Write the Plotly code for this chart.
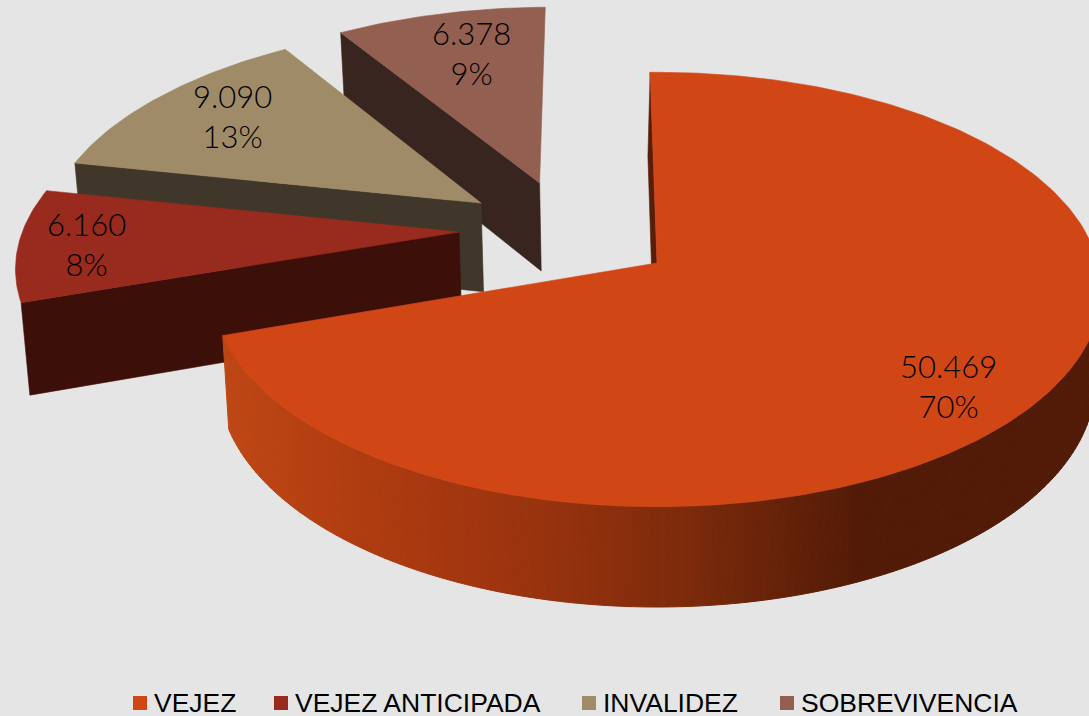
import math
import plotly.graph_objects as go

# Data
CATEGORIES = ["VEJEZ", "VEJEZ ANTICIPADA", "INVALIDEZ", "SOBREVIVENCIA"]
VALUES = [50469, 6160, 9090, 6378]
PERCENT_LABELS = ["70%", "8%", "13%", "9%"]

# Style
TOP_COLORS = ["#D04715", "#982A1E", "#A08B68", "#935F50"]
EDGE_COLORS = ["#5A1E08", "#3D0F09", "#40372A", "#38251F"]
BG = "#E5E5E5"

# Perspective model of the tilted pie
CX, CY = 657.0, 263.0
SCALE_U, SCALE_V, PERSP = 441.0, 214.0, 0.122
DEPTH, BOTTOM_K = 91.0, 1.014
START_ANGLE = -1.0
# explosion offset and radius of each slice in the pie plane (radius units)
OFFSETS = [(0.0, 0.0), (-0.457, 0.147), (-0.413, 0.29), (-0.279, 0.392)]
RADII = [1.0, 1.008, 1.008, 1.008]
WALL_SHIFT = [-0.006, 0.0, 0.0, 0.0]
LABEL_XY = [(948, 386), (86, 244), (232, 116), (471, 53)]
LEGEND_MARKER_X = [140, 281, 589, 787]
LEGEND_TEXT_X = [152, 293, 601, 799]
LEGEND_Y = 703
RIM_START = 92.0


def top(u, v):
    s = 1 + PERSP * v
    return CX + SCALE_U * u / s, CY - SCALE_V * v / s


def bottom(u, v):
    s = 1 + PERSP * v
    return (CX + SCALE_U * u / (s * BOTTOM_K),
            CY - SCALE_V * v / (s * BOTTOM_K) + DEPTH / s)


def polar(ang, off, rad):
    r = math.radians(ang)
    return off[0] + rad * math.sin(r), off[1] + rad * math.cos(r)


def arc(a0, a1, off, rad):
    n = max(2, int(abs(a1 - a0) / 1.0))
    return [polar(a0 + (a1 - a0) * i / n, off, rad) for i in range(n + 1)]


def poly(fig, pts, color, lw=0.6):
    xs = [p[0] for p in pts] + [pts[0][0]]
    ys = [p[1] for p in pts] + [pts[0][1]]
    fig.add_trace(go.Scatter(x=xs, y=ys, mode="lines", fill="toself", fillcolor=color,
                             line=dict(color=color, width=lw), hoverinfo="skip",
                             showlegend=False))


def wall_color(x):
    stops = [(226, (190, 71, 20)), (400, (172, 58, 16)), (560, (150, 50, 14)),
             (700, (122, 42, 11)), (860, (82, 27, 7)), (1100, (82, 27, 7))]
    for (x0, c0), (x1, c1) in zip(stops, stops[1:]):
        if x <= x1:
            t = max(0.0, (x - x0) / (x1 - x0))
            c = [round(a + (b - a) * t) for a, b in zip(c0, c1)]
            return "rgb(%d,%d,%d)" % tuple(c)
    return "rgb(82,27,7)"


total = sum(VALUES)
angles = [START_ANGLE]
for v in VALUES:
    angles.append(angles[-1] + 360.0 * v / total)

fig = go.Figure()

# painter's order: far slices first, the big slice last
for i in [3, 2, 1, 0]:
    a0, a1 = angles[i], angles[i + 1]
    off = OFFSETS[i]
    rad = RADII[i]
    outer = polar(a0, off, rad)
    pts = arc(a0, a1, off, rad)
    # radial wall at the slice start
    ws = WALL_SHIFT[i]
    poly(fig, [top(*off), top(*outer), bottom(outer[0] + ws, outer[1]), bottom(off[0] + ws, off[1])],
         EDGE_COLORS[i])
    # front rim of the big slice, shaded along x
    if i == 0:
        rim = arc(RIM_START, a1, off, rad)
        for j in range(len(rim) - 1):
            seg = rim[j:j + 2]
            mid = bottom(*seg[0])[0]
            poly(fig, [top(*p) for p in seg] + [bottom(*p) for p in reversed(seg)],
                 wall_color(mid), lw=1)
    # top face
    poly(fig, [top(*off)] + [top(*p) for p in pts], TOP_COLORS[i])

# legend entries
for name, color, mx, tx in zip(CATEGORIES, TOP_COLORS, LEGEND_MARKER_X, LEGEND_TEXT_X):
    fig.add_trace(go.Scatter(x=[mx], y=[LEGEND_Y], mode="markers", name=name, showlegend=False,
                             marker=dict(symbol="square", size=14, color=color)))
    fig.add_annotation(x=tx, y=LEGEND_Y, xref="x", yref="y", text=name, showarrow=False,
                       xanchor="left", yanchor="middle",
                       font=dict(family="Liberation Sans, Arial", size=26.5, color="#000000"))

# data labels
for val, pct, (x, y) in zip(VALUES, PERCENT_LABELS, LABEL_XY):
    txt = f"{val:,}".replace(",", ".") + "<br>" + pct
    fig.add_annotation(x=x, y=y, xref="x", yref="y", text=txt, showarrow=False,
                       font=dict(family="Lato Light, Lato", size=31, color="#000000"))

fig.update_layout(
    width=1089, height=716, margin=dict(l=0, r=0, t=0, b=0),
    paper_bgcolor=BG, plot_bgcolor=BG,
    xaxis=dict(range=[0, 1089], visible=False, fixedrange=True),
    yaxis=dict(range=[716, 0], visible=False, fixedrange=True),
    showlegend=False,
)
fig.write_html("out.html", config={"displayModeBar": False},
               post_script="document.body.style.margin='0';document.body.style.overflow='hidden';"
                           "document.documentElement.style.background='%s';" % BG)
